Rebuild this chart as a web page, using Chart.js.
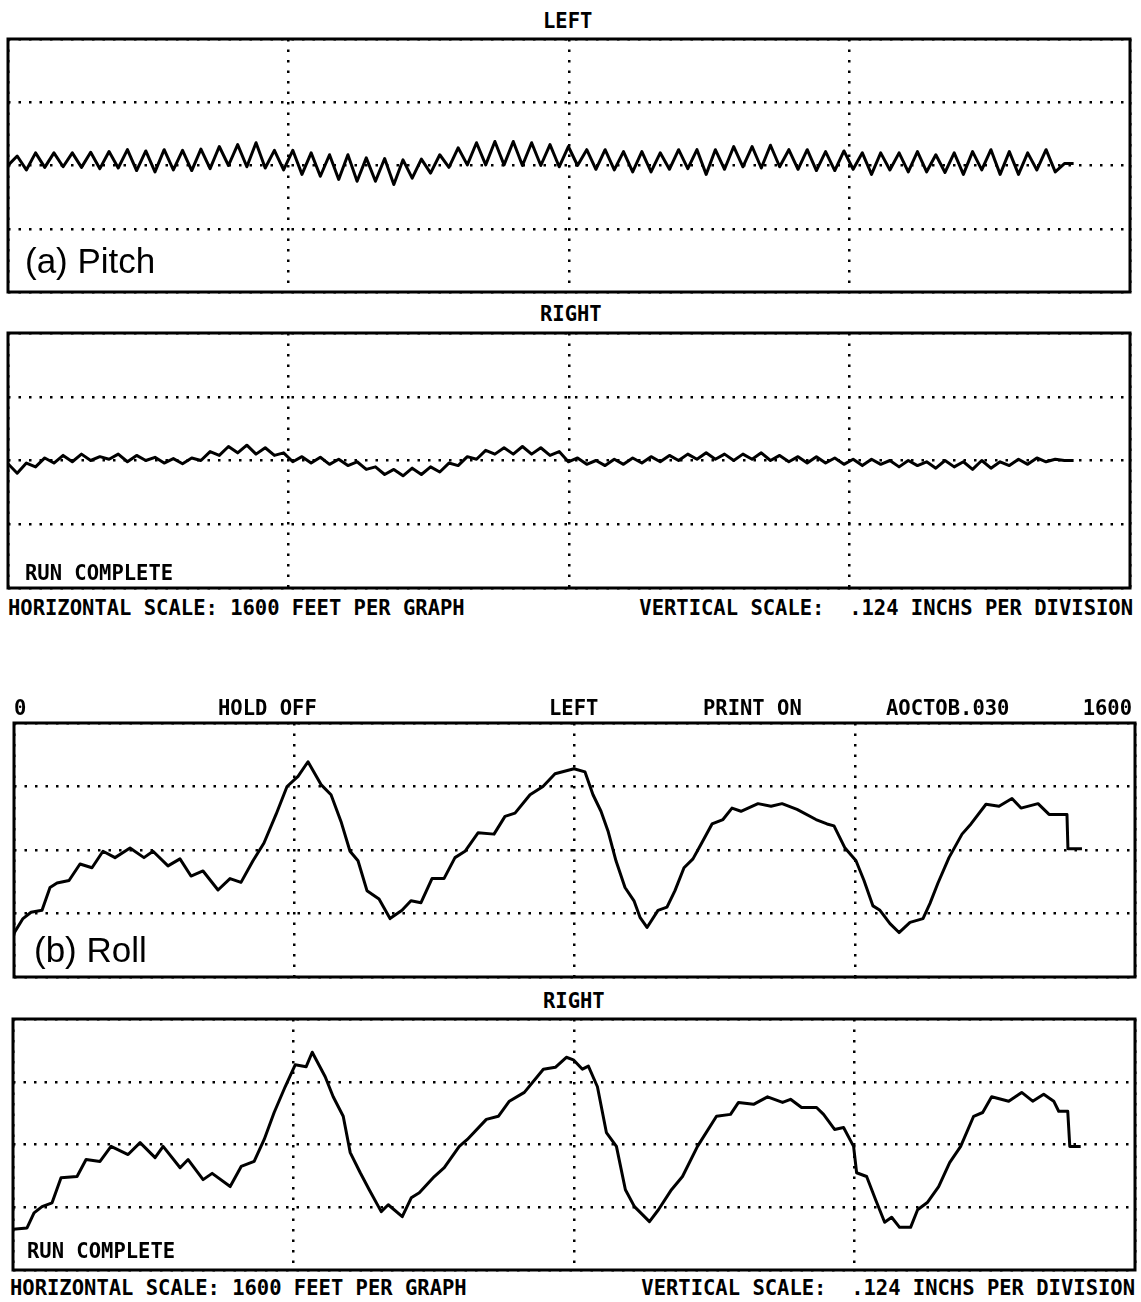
<!DOCTYPE html>
<html lang="en">
<head>
<meta charset="UTF-8">
<title>Pitch and Roll Traces</title>
<script src="https://cdn.jsdelivr.net/npm/chart.js"></script>
<style>
  body { margin: 0; background: #fff; }
  #sheet { position: relative; width: 1141px; height: 1302px; background: #fff; overflow: hidden; }
  .panel { position: absolute; }
  .label { position: absolute; white-space: pre; color: #000; }
</style>
</head>
<body>
<div id="sheet"></div>
<script>
// Recorder output: distance along track (ft) vs deflection (divisions of .124 in)
const PITCH_STEP_FT = 13.1;

const pitchLeft = [
  0.0, 0.15, -0.07, 0.2, -0.03, 0.2, -0.02, 0.2, -0.03, 0.21,
  -0.05, 0.22, -0.04, 0.25, -0.08, 0.23, -0.1, 0.25, -0.07, 0.24,
  -0.08, 0.26, -0.05, 0.3, 0.0, 0.33, -0.02, 0.36, -0.04, 0.24,
  -0.07, 0.24, -0.14, 0.2, -0.17, 0.17, -0.22, 0.17, -0.25, 0.12,
  -0.25, 0.11, -0.3, 0.09, -0.2, 0.1, -0.12, 0.17, -0.03, 0.28,
  0.01, 0.36, 0.01, 0.38, 0.01, 0.38, 0.0, 0.36, 0.0, 0.33,
  -0.02, 0.3, 0.0, 0.25, -0.06, 0.25, -0.07, 0.22, -0.1, 0.22,
  -0.1, 0.2, -0.06, 0.25, -0.05, 0.25, -0.14, 0.25, -0.06, 0.3,
  -0.02, 0.3, -0.04, 0.32, -0.02, 0.25, -0.06, 0.25, -0.08, 0.22,
  -0.08, 0.23, -0.06, 0.2, -0.14, 0.2, -0.07, 0.2, -0.1, 0.22,
  -0.1, 0.17, -0.11, 0.2, -0.14, 0.22, -0.07, 0.25, -0.14, 0.22,
  -0.14, 0.2, -0.07, 0.25, -0.1, 0.03, 0.03
];

const pitchRight = [
  -0.05, -0.2, -0.04, -0.1, 0.04, -0.04, 0.08, -0.02, 0.1, 0.0,
  0.06, 0.02, 0.1, -0.02, 0.08, 0.0, 0.05, -0.04, 0.03, -0.05,
  0.04, 0.0, 0.14, 0.08, 0.22, 0.12, 0.24, 0.1, 0.2, 0.08,
  0.12, -0.02, 0.06, -0.04, 0.05, -0.06, 0.02, -0.08, -0.02, -0.14,
  -0.1, -0.22, -0.14, -0.24, -0.12, -0.22, -0.1, -0.18, -0.04, -0.08,
  0.06, 0.02, 0.16, 0.1, 0.2, 0.1, 0.22, 0.1, 0.2, 0.08,
  0.14, -0.02, 0.04, -0.06, 0.0, -0.08, 0.02, -0.06, 0.04, -0.04,
  0.06, -0.02, 0.08, 0.0, 0.1, 0.02, 0.12, 0.02, 0.1, 0.0,
  0.1, 0.02, 0.12, 0.0, 0.08, -0.02, 0.06, -0.04, 0.06, -0.04,
  0.04, -0.06, 0.02, -0.08, 0.02, -0.06, 0.0, -0.1, 0.0, -0.08,
  -0.02, -0.12, 0.0, -0.1, -0.02, -0.14, 0.0, -0.12, -0.02, -0.08,
  0.02, -0.06, 0.04, -0.02, 0.02, 0.0, 0.0
];

const rollLeftFt = [
  0, 12.8, 24.3, 40.0, 51.4, 61.4, 78.5, 94.2, 111.3, 127.0,
  144.2, 165.6, 185.5, 198.4, 219.8, 236.9, 252.6, 269.8, 291.2, 308.3,
  324.0, 341.1, 356.8, 374.0, 389.7, 405.4, 419.6, 438.2, 452.5, 466.7,
  479.6, 491.0, 503.8, 521.0, 536.7, 553.8, 566.6, 580.9, 596.6, 613.7,
  629.4, 643.7, 662.3, 685.1, 700.8, 715.1, 736.5, 755.0, 772.2, 799.3,
  815.0, 826.4, 837.8, 847.8, 859.2, 872.1, 884.9, 893.5, 903.5, 919.2,
  932.0, 943.4, 956.3, 969.1, 980.6, 996.3, 1011.9, 1024.8, 1037.6, 1061.9,
  1080.5, 1096.2, 1117.6, 1144.7, 1160.4, 1170.4, 1186.1, 1201.8, 1213.2, 1226.0,
  1236.0, 1250.3, 1263.2, 1278.9, 1297.4, 1307.4, 1318.8, 1334.5, 1353.1, 1365.9,
  1387.3, 1405.9, 1424.4, 1437.3, 1461.6, 1477.3, 1502.9, 1504.3, 1524.3
];
const rollLeft = [
  -1.31, -1.08, -0.98, -0.95, -0.59, -0.52, -0.48, -0.22, -0.28, -0.02,
  -0.12, 0.03, -0.12, -0.02, -0.25, -0.14, -0.41, -0.33, -0.63, -0.45,
  -0.51, -0.17, 0.11, 0.56, 1.0, 1.16, 1.39, 1.03, 0.87, 0.45,
  -0.02, -0.17, -0.64, -0.77, -1.08, -0.95, -0.8, -0.83, -0.45, -0.45,
  -0.12, -0.02, 0.27, 0.25, 0.53, 0.58, 0.87, 1.0, 1.2, 1.28,
  1.23, 0.87, 0.61, 0.3, -0.17, -0.59, -0.8, -1.06, -1.22, -0.95,
  -0.9, -0.64, -0.28, -0.14, 0.09, 0.41, 0.48, 0.66, 0.61, 0.73,
  0.69, 0.73, 0.64, 0.48, 0.41, 0.38, 0.03, -0.17, -0.48, -0.88,
  -0.95, -1.16, -1.3, -1.14, -1.08, -0.84, -0.52, -0.12, 0.25, 0.41,
  0.72, 0.69, 0.81, 0.66, 0.73, 0.56, 0.56, 0.02, 0.02
];

const rollRightFt = [
  0, 20.0, 30.0, 41.4, 55.7, 68.5, 91.3, 104.2, 124.1, 139.8,
  164.1, 181.2, 202.6, 214.1, 238.3, 249.7, 271.1, 284.0, 309.7, 325.4,
  343.9, 358.2, 372.4, 388.1, 402.4, 418.1, 426.7, 445.2, 456.6, 470.9,
  480.9, 495.2, 508.0, 525.1, 535.1, 555.1, 567.9, 579.4, 600.8, 615.0,
  636.4, 647.9, 675.0, 692.1, 707.8, 729.2, 756.3, 773.4, 789.1, 799.1,
  812.0, 820.5, 833.4, 846.2, 860.5, 873.3, 886.2, 907.6, 920.4, 939.0,
  954.7, 976.1, 1003.2, 1023.2, 1034.6, 1056.0, 1076.0, 1097.4, 1108.8, 1124.5,
  1145.9, 1155.9, 1171.6, 1184.4, 1198.7, 1203.0, 1217.3, 1230.1, 1243.0, 1253.0,
  1264.3, 1280.0, 1290.0, 1304.3, 1320.0, 1335.7, 1351.4, 1369.9, 1382.8, 1395.6,
  1419.9, 1438.4, 1454.1, 1469.8, 1484.1, 1491.2, 1504.1, 1507.0, 1522.6
];
const rollRight = [
  -1.35, -1.33, -1.09, -0.99, -0.93, -0.53, -0.51, -0.24, -0.27, -0.03,
  -0.16, 0.03, -0.21, -0.03, -0.37, -0.24, -0.56, -0.46, -0.67, -0.35,
  -0.27, 0.08, 0.51, 0.92, 1.27, 1.24, 1.47, 1.08, 0.76, 0.45,
  -0.13, -0.45, -0.72, -1.07, -0.96, -1.15, -0.85, -0.77, -0.51, -0.37,
  -0.03, 0.08, 0.4, 0.45, 0.69, 0.83, 1.2, 1.23, 1.39, 1.35,
  1.2, 1.25, 0.92, 0.19, -0.03, -0.72, -0.99, -1.23, -1.04, -0.72,
  -0.51, -0.03, 0.45, 0.48, 0.67, 0.64, 0.76, 0.67, 0.72, 0.59,
  0.59, 0.48, 0.24, 0.27, -0.03, -0.45, -0.51, -0.88, -1.24, -1.16,
  -1.32, -1.32, -1.04, -0.92, -0.67, -0.29, -0.03, 0.45, 0.51, 0.76,
  0.69, 0.83, 0.69, 0.8, 0.69, 0.53, 0.53, -0.03, -0.03
];

const sheet = document.getElementById('sheet');
const PAD = 6;
const SHEET_W = 1141;

// box outline round each plot area
const frame = {
  id: 'frame',
  afterDraw(chart) {
    const { ctx, chartArea: a } = chart;
    ctx.save();
    ctx.strokeStyle = '#000';
    ctx.lineWidth = 3;
    ctx.strokeRect(a.left, a.top, a.right - a.left, a.bottom - a.top);
    ctx.restore();
  }
};

function dottedAxis(extra) {
  return Object.assign({
    ticks: { display: false },
    grid: { color: '#000', lineWidth: 2.5, drawTicks: false },
    border: { display: false, dash: [2.5, 8] }
  }, extra);
}

function drawPanel(box, points) {
  const wrap = document.createElement('div');
  wrap.className = 'panel';
  wrap.style.left = (box.left - PAD) + 'px';
  wrap.style.top = (box.top - PAD) + 'px';
  const canvas = document.createElement('canvas');
  canvas.width = box.width + 2 * PAD;
  canvas.height = box.height + 2 * PAD;
  wrap.appendChild(canvas);
  sheet.appendChild(wrap);

  new Chart(canvas, {
    type: 'line',
    data: {
      datasets: [{
        data: points,
        borderColor: '#000',
        borderWidth: 3,
        borderJoinStyle: 'round',
        pointRadius: 0,
        tension: 0,
        fill: false
      }]
    },
    options: {
      responsive: false,
      animation: false,
      layout: { padding: PAD },
      plugins: { legend: { display: false }, tooltip: { enabled: false } },
      scales: {
        x: dottedAxis({ type: 'linear', min: 0, max: 1600, ticks: { display: false, stepSize: 400 } }),
        y: dottedAxis({ type: 'linear', min: -2, max: 2, ticks: { display: false, stepSize: 1 } })
      }
    },
    plugins: [frame]
  });
}

const stepped = vals => vals.map((v, i) => ({ x: i * PITCH_STEP_FT, y: v }));
const paired = (xs, ys) => xs.map((x, i) => ({ x: x, y: ys[i] }));

drawPanel({ left: 8, top: 39, width: 1122, height: 253 }, stepped(pitchLeft));
drawPanel({ left: 8, top: 333, width: 1122, height: 255 }, stepped(pitchRight));
drawPanel({ left: 14, top: 723, width: 1121, height: 254 }, paired(rollLeftFt, rollLeft));
drawPanel({ left: 13, top: 1019, width: 1122, height: 251 }, paired(rollRightFt, rollRight));

// text placed by its baseline
const meter = document.createElement('canvas').getContext('2d');
const PLOT_FONT = 'bold 20.5px "DejaVu Sans Mono", monospace';
const CAPTION_FONT = '35px "Liberation Sans", Arial, sans-serif';

function placeText(text, x, baseline, font, anchor) {
  meter.font = font;
  const m = meter.measureText(text);
  const asc = m.fontBoundingBoxAscent, desc = m.fontBoundingBoxDescent;
  const lh = Math.ceil(asc + desc);
  const el = document.createElement('div');
  el.className = 'label';
  el.textContent = text;
  el.style.font = font;
  el.style.lineHeight = lh + 'px';
  el.style.top = (baseline - ((lh - asc - desc) / 2 + asc)) + 'px';
  if (anchor === 'right') el.style.right = (SHEET_W - x) + 'px';
  else el.style.left = x + 'px';
  sheet.appendChild(el);
}

placeText('LEFT', 543, 28, PLOT_FONT);
placeText('(a) Pitch', 25, 273, CAPTION_FONT);
placeText('RIGHT', 540, 321, PLOT_FONT);
placeText('RUN COMPLETE', 25, 580, PLOT_FONT);
placeText('HORIZONTAL SCALE: 1600 FEET PER GRAPH', 8, 615, PLOT_FONT);
placeText('VERTICAL SCALE:  .124 INCHS PER DIVISION', 1133, 615, PLOT_FONT, 'right');

placeText('0', 14, 715, PLOT_FONT);
placeText('HOLD OFF', 218, 715, PLOT_FONT);
placeText('LEFT', 549, 715, PLOT_FONT);
placeText('PRINT ON', 703, 715, PLOT_FONT);
placeText('AOCTOB.030', 886, 715, PLOT_FONT);
placeText('1600', 1132, 715, PLOT_FONT, 'right');
placeText('(b) Roll', 34, 962, CAPTION_FONT);
placeText('RIGHT', 543, 1008, PLOT_FONT);
placeText('RUN COMPLETE', 27, 1258, PLOT_FONT);
placeText('HORIZONTAL SCALE: 1600 FEET PER GRAPH', 10, 1295, PLOT_FONT);
placeText('VERTICAL SCALE:  .124 INCHS PER DIVISION', 1135, 1295, PLOT_FONT, 'right');
</script>
</body>
</html>
